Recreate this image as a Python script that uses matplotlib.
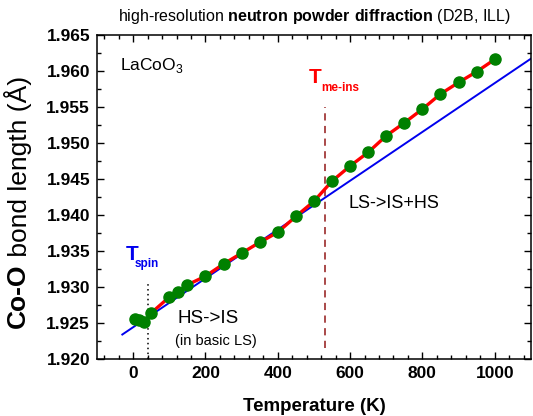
import matplotlib
matplotlib.use('Agg')
import matplotlib.pyplot as plt
from matplotlib.ticker import MultipleLocator, FormatStrFormatter

plt.rcParams['font.family'] = 'Liberation Sans'
plt.rcParams['mathtext.fontset'] = 'custom'
plt.rcParams['mathtext.rm'] = 'Liberation Sans'
plt.rcParams['mathtext.bf'] = 'Liberation Sans:bold'

# measured Co-O bond length vs temperature
TEMP = [5, 17, 30, 50, 100, 125, 150, 200, 250, 300, 350, 400, 450, 500,
        550, 600, 650, 700, 750, 800, 850, 900, 950, 1000]
BOND = [1.9255, 1.9254, 1.9251, 1.9264, 1.9286, 1.9293, 1.9303, 1.9315,
        1.9332, 1.9347, 1.9362, 1.9376, 1.9398, 1.9419, 1.9447, 1.9468,
        1.9487, 1.9510, 1.9528, 1.9547, 1.9568, 1.9584, 1.9599, 1.9616]
RED_FROM = 3          # smooth (red) curve starts at 50 K

# linear low-spin reference line
FIT_T = [-30, 1100]
FIT_Y = [1.9234, 1.9617]

T_SPIN = 40
T_MI = 530

fig = plt.figure(figsize=(5.33, 4.16), dpi=100)
ax = fig.add_axes([0.182, 0.137, 0.814, 0.779])

ax.plot(FIT_T, FIT_Y, color='#0000EE', lw=1.4, zorder=2)
ax.plot(TEMP[RED_FROM:], BOND[RED_FROM:], color='#FF0000', lw=2.4, zorder=3)
ax.plot(TEMP, BOND, 'o', color='#008000', ms=8, mec='#008000', zorder=4)

ax.plot([T_SPIN, T_SPIN], [1.920, 1.9307], color='black', lw=1.1,
        ls=(0, (1, 2.2)), zorder=1)
ax.plot([T_MI, T_MI], [1.9215, 1.955], color='#A33A3A', lw=1.3,
        ls=(0, (4, 3)), zorder=1)

ax.set_xlim(-100, 1100)
ax.set_ylim(1.920, 1.965)
ax.xaxis.set_major_locator(MultipleLocator(200))
ax.xaxis.set_minor_locator(MultipleLocator(40))
ax.yaxis.set_major_locator(MultipleLocator(0.005))
ax.yaxis.set_minor_locator(MultipleLocator(0.0025))
ax.yaxis.set_major_formatter(FormatStrFormatter('%.3f'))
ax.tick_params(which='both', direction='in', top=True, right=True)
ax.tick_params(which='major', length=5, width=1)
ax.tick_params(which='minor', length=3, width=1)
ax.tick_params(labelsize=12.5, pad=5)
for lab in ax.get_xticklabels() + ax.get_yticklabels():
    lab.set_fontweight('bold')
for sp in ax.spines.values():
    sp.set_linewidth(1.1)

ax.set_xlabel('Temperature (K)', fontsize=13.5, fontweight='bold', labelpad=12)

# annotations
ax.text(-36, 1.9601, r'LaCoO$_3$', fontsize=12.5, va='baseline')
ax.text(595, 1.9410, 'LS->IS+HS', fontsize=13, va='baseline')
ax.text(123, 1.9250, 'HS->IS', fontsize=13.5, va='baseline')
ax.text(117, 1.9220, '(in basic LS)', fontsize=10.5, va='baseline')
ax.text(485, 1.9583, 'T', fontsize=15, fontweight='bold', color='#FF0000',
        va='baseline')
ax.text(519, 1.9572, 'me-ins', fontsize=8.5, fontweight='bold',
        color='#FF0000', va='baseline')
ax.text(-20, 1.9338, 'T', fontsize=15, fontweight='bold', color='#0000EE',
        va='baseline')
ax.text(5, 1.9328, 'spin', fontsize=8.5, fontweight='bold', color='#0000EE',
        va='baseline')

fig.text(0.5 * (97 + 532) / 533, 1 - 17 / 416,
         r'high-resolution $\mathbf{neutron\ powder\ diffraction}$ (D2B, ILL)',
         fontsize=11.5, ha='center', va='center')

# y label with bold "Co-O" followed by regular text
fig.canvas.draw()
r = fig.canvas.get_renderer()
W, H = fig.bbox.width, fig.bbox.height
xlab = 18 / W
t1 = fig.text(xlab, 0.0, 'Co-O', fontsize=19, fontweight='bold',
              rotation=90, ha='center', va='bottom')
t2 = fig.text(xlab, 0.0, ' bond length (Å)', fontsize=19,
              rotation=90, ha='center', va='bottom')
h1 = t1.get_window_extent(r).height
h2 = t2.get_window_extent(r).height
yc = (416 - 202) / 416 * H
y0 = yc - (h1 + h2) / 2
t1.set_y(y0 / H)
t2.set_y((y0 + h1) / H)

fig.savefig('out.png', dpi=100)
